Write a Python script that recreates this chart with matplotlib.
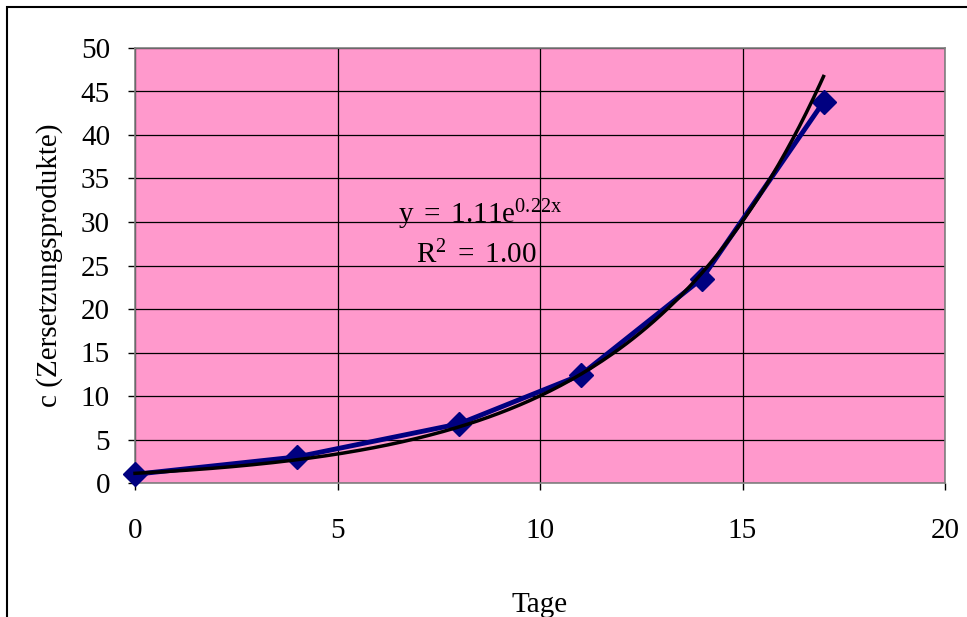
import matplotlib.pyplot as plt
from matplotlib.patches import Rectangle
import numpy as np

tage = [0, 4, 8, 11, 14, 17]
konz = [1.0, 3.0, 6.8, 12.4, 23.5, 43.8]

# fit parameters of the exponential trend line
fit_a = 1.11
fit_b = 0.22
fit_r2 = 1.00

plt.rcParams['font.family'] = ['Liberation Serif', 'DejaVu Serif']
plt.rcParams['mathtext.fontset'] = 'custom'
plt.rcParams['mathtext.rm'] = 'Liberation Serif'
plt.rcParams['mathtext.it'] = 'Liberation Serif'

fig = plt.figure(figsize=(9.67, 6.17), dpi=100)
fig.patches.append(Rectangle((7/967, -0.1), 1.2, 1 - 7/617 + 0.1,
                             transform=fig.transFigure, fill=False,
                             edgecolor='black', lw=1.5))

ax = fig.add_axes([135/967, 1 - 483/617, 810/967, 435/617])
ax.set_facecolor('#FF99CC')
for s in ax.spines.values():
    s.set_color('#808080')
    s.set_linewidth(1.2)

ax.set_xlim(0, 20)
ax.set_ylim(0, 50)
ax.set_xticks(range(0, 21, 5))
ax.set_yticks(range(0, 51, 5))
ax.grid(True, color='black', lw=0.9)
ax.set_axisbelow(True)
ax.tick_params(direction='out', length=5, width=1, color='black',
               labelsize=21, pad=13)
ax.tick_params(axis='x', pad=20)

ax.plot(tage, konz, color='#000080', lw=3.5, marker='D', ms=12.5,
        markerfacecolor='#000080', markeredgecolor='#000080', zorder=3, clip_on=False)

xs = np.linspace(0, max(tage), 200)
ax.plot(xs, fit_a * np.exp(fit_b * xs), color='black', lw=2.5, zorder=4, clip_on=False)

ax.text(6.5, 30.8, r'$\mathrm{y\;=\;%.2fe^{%.2fx}}$' % (fit_a, fit_b), fontsize=21,
        ha='left', va='center')
ax.text(6.95, 26.2, r'$\mathrm{R^2\;=\;%.2f}$' % fit_r2, fontsize=21,
        ha='left', va='center')

ax.set_xlabel('Tage', fontsize=21, va='center')
ax.set_ylabel('c (Zersetzungsprodukte)', fontsize=21, va='center')
ax.xaxis.set_label_coords((540 - 135) / 810, -(605 - 483) / 435)
ax.yaxis.set_label_coords(-(135 - 50) / 810, (483 - 265) / 435)

fig.savefig('out.png', dpi=100)
